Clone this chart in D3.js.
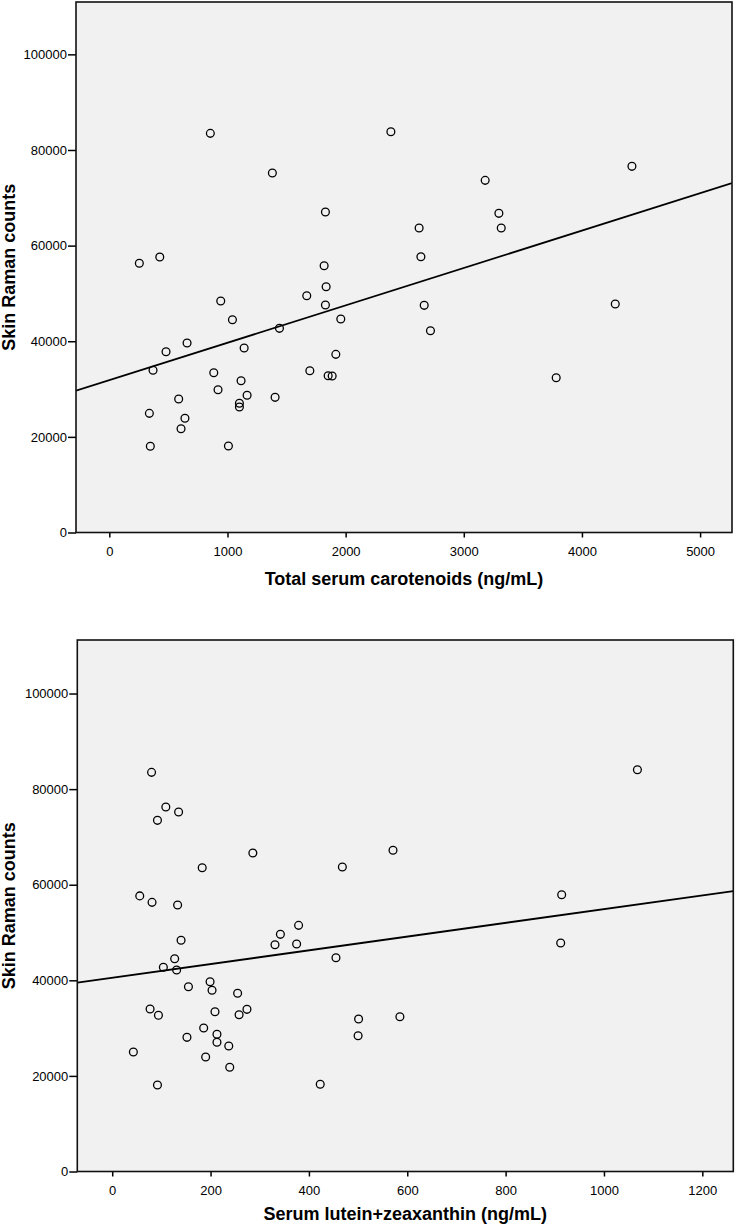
<!DOCTYPE html>
<html>
<head>
<meta charset="utf-8">
<script src="https://cdn.jsdelivr.net/npm/d3@7"></script>
<style>
  html, body { margin: 0; padding: 0; background: #fff; }
  svg { display: block; }
  text { font-family: Arial, "Liberation Sans", Helvetica, sans-serif; fill: #000; }
</style>
</head>
<body>
<svg id="chart" width="736" height="1227"></svg>
<script>
// ---------- data ----------
const carotenoidX = [855, 1380, 1829, 254, 427, 1818, 2383, 4423, 3181, 3297, 3317, 2622, 2637,
  1835, 1671, 943, 1829, 1042, 1959, 1440, 658, 1141, 480, 1917, 370, 884, 1697, 1852, 1886,
  1115, 920, 587, 1403, 1166, 1101, 1101, 339, 640, 607, 347, 1008, 2665, 2718, 4282, 3782];
const carotenoidY = [83480, 75180, 67020, 56300, 57610, 55800, 83820, 76580, 73650, 66750, 63680, 63680, 57680,
  51400, 49520, 48410, 47570, 44500, 44650, 42700, 39630, 38580, 37810, 37260, 33920, 33420, 33840, 32790, 32730,
  31750, 29870, 27920, 28270, 28690, 27020, 26250, 24920, 23880, 21710, 18030, 18090, 47510, 42200, 47780, 32380];

const luteinX = [80, 109, 92, 135, 286, 183, 468, 1068, 571, 914,
  56, 81, 133, 379, 342, 140, 331, 375, 455, 127, 104, 131, 199, 203, 155, 255, 77, 94, 209, 274, 258,
  186, 152, 213, 213, 237, 43, 190, 239, 92, 423, 501, 500, 912, 585];
const luteinY = [83510, 76260, 73470, 75210, 66630, 63560, 63700, 84060, 67200, 57910,
  57660, 56310, 55750, 51500, 49620, 48370, 47450, 47590, 44730, 44520, 42720, 42150, 39710, 37910, 38660, 37280,
  34000, 32680, 33430, 33930, 32800, 30020, 28070, 28700, 27030, 26260, 25000, 23950, 21800, 18100, 18240,
  31900, 28410, 47800, 32390];

// fitted regression lines: [intercept, slope]
const carotenoidFit = [31850, 7.82];
const luteinFit = [40520, 14.38];

const yTicks = [0, 20000, 40000, 60000, 80000, 100000];
const carotenoidTicks = [0, 1000, 2000, 3000, 4000, 5000];
const luteinTicks = [0, 200, 400, 600, 800, 1000, 1200];

const yTitle = "Skin Raman counts";
const carotenoidTitle = "Total serum carotenoids (ng/mL)";
const luteinTitle = "Serum lutein+zeaxanthin (ng/mL)";

// ---------- drawing ----------
const svg = d3.select("#chart");

function panel(cfg) {
  const x = d3.scaleLinear().domain(cfg.xDomain).range([cfg.left, cfg.right]);
  const y = d3.scaleLinear().domain(cfg.yDomain).range([cfg.bottom, cfg.top]);
  const g = svg.append("g");

  g.append("rect")
    .attr("x", cfg.left).attr("y", cfg.top)
    .attr("width", cfg.right - cfg.left).attr("height", cfg.bottom - cfg.top)
    .attr("fill", "#f1f1f1");

  const clipId = "clip" + cfg.id;
  g.append("clipPath").attr("id", clipId).append("rect")
    .attr("x", cfg.left).attr("y", cfg.top)
    .attr("width", cfg.right - cfg.left).attr("height", cfg.bottom - cfg.top);

  // regression line
  const [b0, b1] = cfg.fit;
  const xs = cfg.xDomain;
  g.append("line")
    .attr("clip-path", `url(#${clipId})`)
    .attr("x1", x(xs[0])).attr("y1", y(b0 + b1 * xs[0]))
    .attr("x2", x(xs[1])).attr("y2", y(b0 + b1 * xs[1]))
    .attr("stroke", "#000").attr("stroke-width", 1.8);

  // points
  g.append("g").selectAll("circle")
    .data(cfg.xs.map((v, i) => [v, cfg.ys[i]]))
    .join("circle")
    .attr("cx", d => x(d[0])).attr("cy", d => y(d[1]))
    .attr("r", 3.9)
    .attr("fill", "none").attr("stroke", "#000").attr("stroke-width", 1.3);

  // axes
  const yAxis = g.append("g")
    .attr("transform", `translate(${cfg.left},0)`)
    .call(d3.axisLeft(y).tickValues(yTicks).tickSize(8).tickPadding(1).tickFormat(d3.format("d")));
  const xAxis = g.append("g")
    .attr("transform", `translate(0,${cfg.bottom})`)
    .call(d3.axisBottom(x).tickValues(cfg.xTicks).tickSize(5).tickPadding(9).tickFormat(d3.format("d")));
  [xAxis, yAxis].forEach(a => {
    a.select(".domain").remove();
    a.selectAll(".tick line").attr("stroke", "#000").attr("stroke-width", 1.5);
    a.selectAll(".tick text").attr("font-size", 13).attr("fill", "#000")
      .style("font-family", "Arial, 'Liberation Sans', sans-serif");
  });

  // frame
  g.append("rect")
    .attr("x", cfg.left).attr("y", cfg.top)
    .attr("width", cfg.right - cfg.left).attr("height", cfg.bottom - cfg.top)
    .attr("fill", "none").attr("stroke", "#111").attr("stroke-width", 1.6);

  // titles
  g.append("text")
    .attr("x", (cfg.left + cfg.right) / 2).attr("y", cfg.xTitleY)
    .attr("text-anchor", "middle").attr("font-size", 18).attr("font-weight", "bold")
    .text(cfg.xTitle);
  g.append("text")
    .attr("transform", `translate(15,${(cfg.top + cfg.bottom) / 2}) rotate(-90)`)
    .attr("text-anchor", "middle").attr("font-size", 18).attr("font-weight", "bold")
    .text(yTitle);
}

panel({
  id: "a", left: 76, right: 732, top: 2, bottom: 532.5,
  xDomain: [-282, 5270], yDomain: [0, 110950],
  xs: carotenoidX, ys: carotenoidY, fit: carotenoidFit,
  xTicks: carotenoidTicks, xTitle: carotenoidTitle, xTitleY: 585
});
panel({
  id: "b", left: 77.3, right: 733.3, top: 640, bottom: 1171.5,
  xDomain: [-71, 1263], yDomain: [0, 111200],
  xs: luteinX, ys: luteinY, fit: luteinFit,
  xTicks: luteinTicks, xTitle: luteinTitle, xTitleY: 1220
});
</script>
</body>
</html>
